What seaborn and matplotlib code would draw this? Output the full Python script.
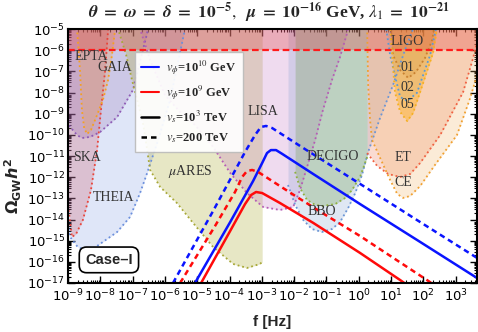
import numpy as np
import pandas as pd
import matplotlib
matplotlib.use("Agg")
import matplotlib.pyplot as plt
import seaborn as sns
from matplotlib.lines import Line2D
from matplotlib.ticker import LogLocator, NullFormatter

# ---------------- data (log10 f [Hz], log10 Omega_GW h^2) ----------------
# signal spectra
bs_lf = [-5.07, -3.98, -3.27, -2.99, -2.84, -2.72, -2.56, -2.37, -1.41, 0.04, 1.90, 3.76]
bs_lo = [-17.00, -14.12, -12.18, -11.33, -10.86, -10.72, -10.72, -10.90, -11.85, -13.27, -15.06, -16.86]
bd_lf = [-5.75, -4.51, -3.52, -3.21, -3.03, -2.87, -2.68, -1.72, -0.05, 1.90, 3.76]
bd_lo = [-17.00, -13.60, -10.81, -10.01, -9.63, -9.58, -9.68, -10.62, -12.23, -14.12, -15.91]
rs_lf = [-4.88, -3.98, -3.52, -3.33, -3.18, -2.99, -2.44, -1.41, 0.04, 1.28, 1.59]
rs_lo = [-17.00, -14.54, -13.27, -12.84, -12.70, -12.75, -13.22, -14.16, -15.58, -16.86, -17.19]
rd_lf = [-5.53, -4.45, -3.83, -3.61, -3.46, -3.30, -3.12, -1.91, -0.98, 0.04, 2.15, 2.52]
rd_lo = [-17.00, -14.31, -12.70, -11.99, -11.71, -11.66, -11.75, -12.94, -13.83, -14.78, -16.90, -17.28]

# sensitivity curves
THEIA_lf = [-9.6, -9.2, -8.95, -8.70, -8.47, -8.23, -7.92, -7.48, -7.08, -6.77, -6.55, -6.21, -5.84, -5.38, -5.25]
THEIA_lo = [-4.5, -12.2, -14.8, -15.3, -15.44, -15.39, -15.06, -14.59, -13.88, -12.75, -11.80, -10.24, -8.35, -5.0, -4.5]
SKA_lf = [-9.5, -9.1, -8.88, -8.75, -8.54, -8.29, -8.10, -7.98, -7.85, -7.76, -7.72]
SKA_lo = [-4.5, -12.0, -14.83, -14.68, -14.02, -12.61, -10.72, -8.83, -6.94, -5.05, -4.5]
GAIA_lf = [-9.4, -9.2, -8.95, -8.72, -8.57, -8.32, -8.01, -7.48, -6.99, -6.55, -6.50]
GAIA_lo = [-4.5, -8.0, -9.6, -10.01, -10.15, -10.10, -9.87, -9.16, -7.88, -5.19, -4.5]
EPTA_lf = [-8.74, -8.72, -8.63, -8.57, -8.50, -8.41, -8.29, -8.10, -7.92, -7.76, -7.64, -7.54, -7.52]
EPTA_lo = [-4.5, -5.0, -6.94, -8.83, -9.68, -9.96, -9.77, -9.06, -8.35, -7.41, -6.23, -5.0, -4.5]
MUARES_lf = [-7.50, -7.45, -7.20, -7.02, -6.86, -6.68, -6.55, -6.46, -6.15, -5.63, -5.13, -4.51, -3.89, -3.46, -3.06, -2.99]
MUARES_lo = [-4.5, -5.0, -6.23, -7.41, -8.35, -9.44, -10.72, -11.66, -12.46, -13.22, -14.16, -15.30, -16.10, -16.29, -16.10, -16.01]
LISA_lf = [-6.85, -6.77, -6.46, -6.00, -5.53, -5.07, -4.51, -3.98, -3.46, -2.96, -2.44, -2.03, -1.82, -1.60, -1.35, -1.11, -0.83, -0.58, -0.36, -0.30]
LISA_lo = [-4.5, -5.0, -6.46, -8.12, -8.92, -9.53, -10.57, -11.80, -12.75, -13.41, -13.55, -13.41, -12.61, -11.52, -10.24, -8.83, -7.41, -6.32, -5.19, -4.5]
BBO_lf = [-2.19, -1.97, -1.72, -1.45, -1.14, -0.83, -0.58, -0.33, -0.11, 0.10, 0.29, 0.66, 1.06, 1.43, 1.68, 1.75]
BBO_lo = [-12.37, -13.31, -14.02, -14.45, -14.59, -14.45, -14.12, -13.46, -12.75, -11.90, -10.81, -9.20, -7.65, -5.99, -5.0, -4.5]
DECIGO_lf = [-1.97, -1.82, -1.60, -1.35, -1.11, -0.73, -0.42, -0.21, 0.04, 0.26]
DECIGO_lo = [-11.75, -12.51, -13.08, -13.31, -13.36, -13.27, -12.98, -12.61, -11.99, -11.05]
ET_lf = [0.26, 0.57, 0.91, 1.28, 1.59, 1.90, 2.52, 3.23, 3.54, 3.76, 3.85]
ET_lo = [-10.86, -11.47, -11.85, -11.99, -11.85, -11.33, -10.01, -7.98, -6.37, -5.0, -4.5]
CE_lf = [0.24, 0.26, 0.29, 0.35, 0.41, 0.66, 0.97, 1.19, 1.37, 1.59, 1.90, 2.36, 3.04, 3.45, 3.66, 3.91]
CE_lo = [-4.5, -5.0, -7.6, -9.3, -10.24, -11.09, -12.13, -12.79, -12.98, -12.89, -12.42, -11.42, -10.01, -8.26, -7.17, -5.76]
O1_lf = [0.97, 1.06, 1.28, 1.53, 1.77, 2.05, 2.27, 2.33]
O1_lo = [-5.0, -6.23, -6.94, -7.31, -7.03, -6.37, -5.52, -5.0]
O2_lf = [0.85, 0.97, 1.28, 1.50, 1.80, 2.21, 2.39]
O2_lo = [-5.0, -6.23, -8.21, -8.40, -8.02, -6.23, -5.0]
O5_lf = [0.97, 1.12, 1.28, 1.50, 1.68, 1.90, 2.30, 2.42]
O5_lo = [-5.0, -7.98, -8.92, -9.35, -8.97, -7.98, -6.13, -5.0]

bound_lo = -6.0   # dashed horizontal bound

# region labels: (text, log10 f, log10 Omega)
label_text = ["EPTA", "GAIA", "SKA", "THEIA", r"$\mu$ARES", "LISA", "DECIGO", "BBO",
              "LIGO", "01", "02", "05", "ET", "CE"]
label_lf = [-8.29, -7.54, -8.41, -7.58, -5.22, -2.96, -0.80, -1.14, 1.50, 1.50, 1.50, 1.50, 1.37, 1.37]
label_lo = [-6.28, -6.80, -11.05, -12.94, -11.75, -8.92, -11.00, -13.64, -5.61, -6.80, -7.74, -8.59, -11.05, -12.23]

legend_labels = [r"$\boldsymbol{v_\phi}$=10$^{10}$ GeV", r"$\boldsymbol{v_\phi}$=10$^{9}$ GeV",
                 r"$\boldsymbol{v_s}$=10$^{3}$ TeV", r"$\boldsymbol{v_s}$=200 TeV"]

title_text = (r"$\boldsymbol{\theta}\ \mathbf{=}\ \boldsymbol{\omega}\ \mathbf{=}\ \boldsymbol{\delta}\ \mathbf{=}\ \mathbf{10^{-5}},"
              r"\ \ \boldsymbol{\mu}\ \mathbf{=}\ \mathbf{10^{-16}}$ GeV, "
              r"$\boldsymbol{\lambda_1}\ \mathbf{=}\ \mathbf{10^{-21}}$")

# ---------------- plotting ----------------
sns.set_theme(style="ticks")
plt.rcParams['font.family'] = ['DejaVu Sans']
plt.rcParams['mathtext.fontset'] = 'dejavusans'

fig = plt.figure(figsize=(4.78, 3.32), dpi=100)
ax = fig.add_axes([0.1423, 0.1476, 0.8556, 0.765])
ax.set_xscale('log')
ax.set_yscale('log')

regions = [
    (THEIA_lf, THEIA_lo, '#7090e0', 0.22, '#6b8fdc'),
    (SKA_lf, SKA_lo, '#d05060', 0.25, '#e8443a'),
    (GAIA_lf, GAIA_lo, '#8050a0', 0.20, '#8e5bb5'),
    (EPTA_lf, EPTA_lo, '#f0a040', 0.25, '#f5a020'),
    (MUARES_lf, MUARES_lo, '#b0b040', 0.30, '#a8a838'),
    (LISA_lf, LISA_lo, '#c070c0', 0.25, '#b55bb5'),
    (BBO_lf, BBO_lo, '#80a0d0', 0.25, '#6a95d5'),
    (DECIGO_lf, DECIGO_lo, '#70a050', 0.30, '#8fb040'),
    (ET_lf, ET_lo, '#f08060', 0.28, '#f06040'),
    (CE_lf, CE_lo, '#f0b060', 0.25, '#f0a030'),
    (O1_lf, O1_lo, '#c08040', 0.22, '#c88030'),
    (O2_lf, O2_lo, '#70a0d0', 0.15, '#5a9ad5'),
    (O5_lf, O5_lo, '#ffb020', 0.45, '#f5b020'),
]
for lf, lo, fc, a, lc in regions:
    f = 10.0 ** np.array(lf)
    o = 10.0 ** np.array(lo)
    ax.fill_between(f, o, 1e-4, color=fc, alpha=a, lw=0)
    ax.plot(f, o, color=lc, lw=1.3, ls=(0, (1, 1.6)))

# excluded band above the bound
ax.fill_between([1e-10, 1e5], 10.0 ** bound_lo, 1e-4, color='#e04040', alpha=0.3, lw=0)
ax.axhline(10.0 ** bound_lo, color='#ff1a1a', lw=1.6, ls=(0, (3, 1.6)))

# signal spectra through seaborn
rows = []
for lf, lo, vp, vs in [(bs_lf, bs_lo, '1e10', '1e3'), (bd_lf, bd_lo, '1e10', '200'),
                       (rs_lf, rs_lo, '1e9', '1e3'), (rd_lf, rd_lo, '1e9', '200')]:
    for a, b in zip(lf, lo):
        rows.append({'f': 10.0 ** a, 'Omega': 10.0 ** b, 'vphi': vp, 'vs': vs, 'curve': vp + vs})
df = pd.DataFrame(rows)
sns.lineplot(data=df, x='f', y='Omega', hue='vphi', style='vs', units='curve',
             palette={'1e10': '#0a14ff', '1e9': '#ff0a0a'},
             dashes={'1e3': '', '200': (2.2, 1.6)}, estimator=None, sort=False,
             lw=1.8, legend=False, ax=ax)

for t, a, b in zip(label_text, label_lf, label_lo):
    ax.text(10.0 ** a, 10.0 ** b, t, ha='center', va='center', fontsize=10,
            family='Liberation Serif', color='#333333', math_fontfamily='stix')

ax.text(0.100, 0.091, "Case–I", transform=ax.transAxes, ha='center', va='center',
        fontsize=10.5, fontweight='bold', family='Liberation Sans',
        bbox=dict(boxstyle='round,pad=0.4,rounding_size=0.5', fc='white', ec='black', lw=1.2))

ax.set_xlim(1e-9, 10 ** 3.66)
ax.set_ylim(1e-17, 1e-5)
ax.xaxis.set_major_locator(LogLocator(base=10, numticks=30))
ax.yaxis.set_major_locator(LogLocator(base=10, numticks=30))
ax.xaxis.set_minor_locator(LogLocator(base=10, subs=np.arange(2, 10), numticks=300))
ax.yaxis.set_minor_locator(LogLocator(base=10, subs=np.arange(2, 10), numticks=300))
ax.xaxis.set_minor_formatter(NullFormatter())
ax.yaxis.set_minor_formatter(NullFormatter())
ax.tick_params(which='both', direction='in', top=True, right=True, colors='black')
ax.tick_params(which='major', length=5, width=1.0, labelsize=9.5, pad=3.5)
ax.tick_params(axis='y', which='major', pad=2)
ax.tick_params(which='minor', length=2.5, width=0.8)
for s in ax.spines.values():
    s.set_linewidth(1.5)
    s.set_color('black')
ax.set_xlabel('')
ax.set_ylabel('')

handles = [Line2D([], [], color='#0a14ff', lw=1.5), Line2D([], [], color='#ff0a0a', lw=1.5),
           Line2D([], [], color='black', lw=1.8), Line2D([], [], color='black', lw=1.8, ls=(0, (2.2, 1.6)))]
leg = ax.legend(handles, legend_labels, loc='upper left', bbox_to_anchor=(0.164, 0.909),
                borderaxespad=0.0,
                prop={'family': 'Liberation Serif', 'weight': 'bold', 'size': 9},
                frameon=True, fancybox=False, edgecolor='#bbbbbb', framealpha=0.92,
                handlelength=1.4, labelspacing=0.5, borderpad=0.5, handletextpad=0.6)
leg.get_frame().set_linewidth(1.0)
for t in leg.get_texts():
    t.set_math_fontfamily('stix')

fig.text(0.563, 0.962, title_text, ha='center', va='center', fontsize=12.5,
         family='Liberation Serif', fontweight='bold', math_fontfamily='stix')
fig.text(0.027, 0.44, r"$\mathbf{\Omega_{GW}}\boldsymbol{h}^{\mathbf{2}}$", rotation=90,
         ha='center', va='center', fontsize=11.5, fontweight='bold', math_fontfamily='dejavusans')
fig.text(0.569, 0.03, "f [Hz]", ha='center', va='center', fontsize=11, fontweight='bold',
         family='Liberation Sans')

fig.savefig('out.png', dpi=100)
